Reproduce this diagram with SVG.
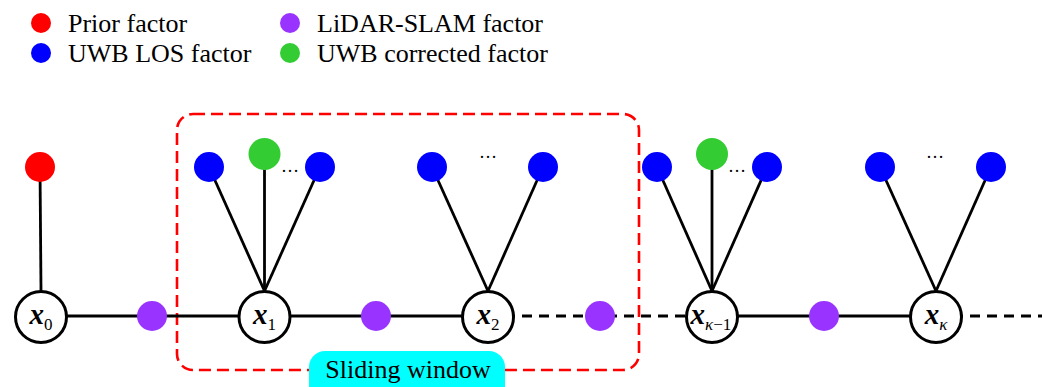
<svg xmlns="http://www.w3.org/2000/svg" width="1042" height="387" viewBox="0 0 1042 387">
<style>
.ln{stroke:#000;stroke-width:2.8;fill:none}
.dl{stroke:#000;stroke-width:2.8;fill:none;stroke-dasharray:10 7}
.node{fill:#fff;stroke:#000;stroke-width:3}
.red{fill:#ff0000}.blue{fill:#0000ff}.pur{fill:#9933ff}.grn{fill:#33cc33}
</style>
<g id="legend" font-family="Liberation Serif" font-size="26" fill="#000">
<circle class="red" cx="41" cy="23" r="10"/><text x="68" y="32" font-family="Liberation Serif">Prior factor</text>
<circle class="blue" cx="41" cy="53" r="10"/><text x="68" y="62" font-family="Liberation Serif">UWB LOS factor</text>
<circle class="pur" cx="290" cy="23" r="10"/><text x="317" y="32" font-family="Liberation Serif">LiDAR-SLAM factor</text>
<circle class="grn" cx="290" cy="53" r="10"/><text x="317" y="62" font-family="Liberation Serif">UWB corrected factor</text>
</g>
<g id="window">
<rect x="177" y="114" width="462" height="256" rx="16" fill="none" stroke="#ff0000" stroke-width="2.6" stroke-dasharray="12 6"/>
</g>
<g id="connectors">
<line class="ln" x1="41" y1="316" x2="488" y2="316"/>
<line class="dl" x1="488" y1="316" x2="712" y2="316"/>
<line class="ln" x1="712" y1="316" x2="936" y2="316"/>
<line class="dl" x1="936" y1="316" x2="1042" y2="316"/>
<line class="ln" x1="40" y1="167" x2="41" y2="291"/>
<line class="ln" x1="209" y1="167" x2="264.5" y2="291"/>
<line class="ln" x1="264.5" y1="154" x2="264.5" y2="291"/>
<line class="ln" x1="320" y1="167" x2="264.5" y2="291"/>
<line class="ln" x1="432" y1="167" x2="488" y2="291"/>
<line class="ln" x1="543" y1="167" x2="488" y2="291"/>
<line class="ln" x1="657" y1="167" x2="712" y2="291"/>
<line class="ln" x1="712" y1="154" x2="712" y2="291"/>
<line class="ln" x1="767" y1="167" x2="712" y2="291"/>
<line class="ln" x1="880" y1="167" x2="936" y2="291"/>
<line class="ln" x1="991" y1="167" x2="936" y2="291"/>
</g>
<g id="factors" font-family="Liberation Serif" font-size="18">
<circle class="red" cx="40" cy="167" r="15"/>
<circle class="blue" cx="209" cy="167" r="15"/>
<circle class="grn" cx="264.5" cy="154" r="16"/>
<circle class="blue" cx="320" cy="167" r="15"/>
<text x="290" y="172" text-anchor="middle" font-family="Liberation Serif">…</text>
<circle class="blue" cx="432" cy="167" r="15"/>
<circle class="blue" cx="543" cy="167" r="15"/>
<text x="488" y="158" text-anchor="middle" font-family="Liberation Serif">…</text>
<circle class="blue" cx="657" cy="167" r="15"/>
<circle class="grn" cx="712" cy="154" r="16"/>
<circle class="blue" cx="767" cy="167" r="15"/>
<text x="737" y="172" text-anchor="middle" font-family="Liberation Serif">…</text>
<circle class="blue" cx="880" cy="167" r="15"/>
<circle class="blue" cx="991" cy="167" r="15"/>
<text x="935" y="158" text-anchor="middle" font-family="Liberation Serif">…</text>
<circle class="pur" cx="152" cy="316" r="15"/>
<circle class="pur" cx="376" cy="316" r="15"/>
<circle class="pur" cx="600" cy="316" r="15"/>
<circle class="pur" cx="824" cy="316" r="15"/>
</g>
<g id="x0"><circle class="node" cx="41" cy="317" r="25.5"/><text x="41" y="324" text-anchor="middle" font-family="Liberation Serif"><tspan font-size="29" font-weight="bold" font-style="italic">x</tspan><tspan font-size="17" dy="6">0</tspan></text></g>
<g id="x1"><circle class="node" cx="264.5" cy="317" r="25.5"/><text x="264.5" y="324" text-anchor="middle" font-family="Liberation Serif"><tspan font-size="29" font-weight="bold" font-style="italic">x</tspan><tspan font-size="17" dy="6">1</tspan></text></g>
<g id="x2"><circle class="node" cx="488" cy="317" r="25.5"/><text x="488" y="324" text-anchor="middle" font-family="Liberation Serif"><tspan font-size="29" font-weight="bold" font-style="italic">x</tspan><tspan font-size="17" dy="6">2</tspan></text></g>
<g id="xk1"><circle class="node" cx="712" cy="317" r="25.5"/><text x="711" y="324" text-anchor="middle" font-family="Liberation Serif"><tspan font-size="29" font-weight="bold" font-style="italic">x</tspan><tspan font-size="17" dy="6"><tspan font-style="italic">κ</tspan>−1</tspan></text></g>
<g id="xk"><circle class="node" cx="936" cy="317" r="25.5"/><text x="936" y="324" text-anchor="middle" font-family="Liberation Serif"><tspan font-size="29" font-weight="bold" font-style="italic">x</tspan><tspan font-size="17" dy="6" font-style="italic">κ</tspan></text></g>
<g id="label">
<rect x="309" y="351" width="196" height="56" rx="16" fill="#00ffff"/>
<text x="408" y="378" text-anchor="middle" font-family="Liberation Serif" font-size="26">Sliding window</text>
</g>
</svg>
